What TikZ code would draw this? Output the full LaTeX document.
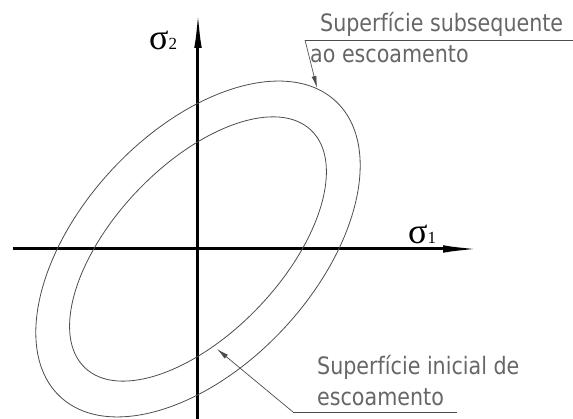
\documentclass[tikz,border=0pt]{standalone}
\usepackage{fontspec}
\usetikzlibrary{arrows.meta}
\newfontfamily\cadfont[FakeStretch=0.86]{DejaVu Sans}
\newfontfamily\sigfont{Liberation Serif}
\begin{document}
\begin{tikzpicture}[x=1pt,y=1pt,
  axis/.style={line width=3pt, -{Latex[length=40pt,width=7.5pt]}},
  curve/.style={line width=0.8pt, black!70},
  leader/.style={line width=0.7pt, black!70},
  leadarrow/.style={leader, -{Latex[length=12pt,width=5pt]}},
  lbl/.style={font=\cadfont\fontsize{24}{24}\selectfont, text=black!60, inner sep=0pt, anchor=base west},
  sig/.style={inner sep=0pt, anchor=base west}]
\useasboundingbox (-198,-170) rectangle (375,249);
% axes
\coordinate (hl) at (-185,0);
\coordinate (hr) at (285,0);
\coordinate (vb) at (0,-172);
\coordinate (vt) at (0,241);
\draw[axis] (hl) -- (hr);
\draw[axis] (vb) -- (vt);
% yield surfaces
\draw[curve, rotate=47] (0,0) ellipse [x radius=202, y radius=117];
\draw[curve, rotate=46.4] (0,0) ellipse [x radius=164, y radius=84];
% axis labels
\node[sig] (s2) at (-49,199) {\sigfont\fontsize{36}{36}\selectfont σ\fontsize{17}{17}\selectfont 2};
\node[sig] (s1) at (210,5) {\sigfont\fontsize{36}{36}\selectfont σ\fontsize{17}{17}\selectfont 1};
% top label
\node[lbl] (t1) at (122,217) {Superfície subsequente};
\node[lbl] (t2) at (112,186) {ao escoamento};
\coordinate (ta) at (107,209);
\coordinate (tb) at (375,209);
\coordinate (tt) at (119,161);
\draw[leader] (tb) -- (ta);
\draw[leadarrow] (ta) -- (tt);
% bottom label
\node[lbl] (b1) at (119,-126) {Superfície inicial de};
\node[lbl] (b2) at (119,-157) {escoamento};
\coordinate (ba) at (95,-163);
\coordinate (bb) at (259,-163);
\coordinate (bt) at (19,-100);
\draw[leader] (bb) -- (ba);
\draw[leadarrow] (ba) -- (bt);
\end{tikzpicture}
\end{document}
